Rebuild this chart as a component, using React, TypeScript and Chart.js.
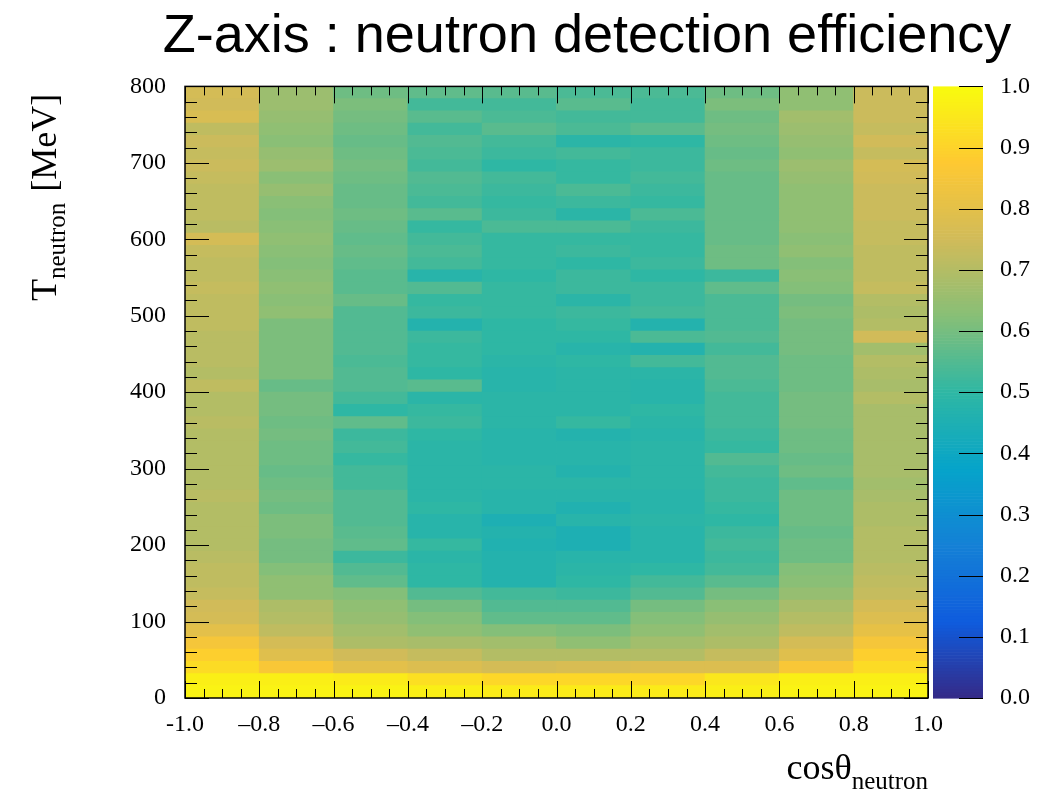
import React, { useEffect, useRef } from 'react';
import { Chart, registerables } from 'chart.js';

Chart.register(...registerables);

// Bin edges
const cosEdges = [-1.0, -0.8, -0.6, -0.4, -0.2, 0.0, 0.2, 0.4, 0.6, 0.8, 1.0];
const energyEdges = [0, 16, 32, 48, 64, 80, 96, 112, 128, 144, 160, 176, 192, 208, 224, 240, 256, 272, 288, 304, 320, 336, 352, 368, 384, 400, 416, 432, 448, 464, 480, 496, 512, 528, 544, 560, 576, 592, 608, 624, 640, 656, 672, 688, 704, 720, 736, 752, 768, 784, 800];

// Efficiency per energy bin (rows from 0 MeV upward), 10 cos bins each
const efficiency = [
  [0.98, 0.98, 0.98, 0.97, 0.96, 0.96, 0.96, 0.97, 0.98, 0.98],
  [0.97, 0.97, 0.96, 0.93, 0.91, 0.91, 0.91, 0.95, 0.97, 0.97],
  [0.92, 0.86, 0.80, 0.78, 0.76, 0.77, 0.78, 0.78, 0.86, 0.92],
  [0.89, 0.79, 0.75, 0.73, 0.70, 0.70, 0.70, 0.73, 0.79, 0.89],
  [0.85, 0.76, 0.69, 0.68, 0.67, 0.64, 0.67, 0.69, 0.76, 0.85],
  [0.80, 0.72, 0.67, 0.64, 0.62, 0.61, 0.64, 0.67, 0.72, 0.81],
  [0.76, 0.70, 0.65, 0.62, 0.57, 0.57, 0.62, 0.65, 0.70, 0.78],
  [0.75, 0.69, 0.64, 0.60, 0.55, 0.55, 0.60, 0.63, 0.68, 0.76],
  [0.73, 0.64, 0.62, 0.55, 0.53, 0.52, 0.55, 0.60, 0.65, 0.73],
  [0.72, 0.64, 0.57, 0.50, 0.47, 0.50, 0.53, 0.56, 0.63, 0.72],
  [0.72, 0.62, 0.55, 0.50, 0.47, 0.49, 0.50, 0.53, 0.62, 0.71],
  [0.71, 0.60, 0.52, 0.49, 0.47, 0.48, 0.48, 0.52, 0.59, 0.70],
  [0.70, 0.60, 0.57, 0.51, 0.46, 0.45, 0.48, 0.53, 0.59, 0.70],
  [0.70, 0.61, 0.56, 0.48, 0.47, 0.45, 0.48, 0.52, 0.58, 0.70],
  [0.70, 0.61, 0.55, 0.48, 0.45, 0.48, 0.49, 0.50, 0.59, 0.69],
  [0.70, 0.59, 0.55, 0.50, 0.48, 0.46, 0.48, 0.51, 0.59, 0.69],
  [0.71, 0.60, 0.55, 0.49, 0.48, 0.48, 0.48, 0.52, 0.59, 0.68],
  [0.70, 0.59, 0.53, 0.49, 0.49, 0.49, 0.49, 0.52, 0.57, 0.67],
  [0.70, 0.58, 0.53, 0.49, 0.49, 0.47, 0.49, 0.53, 0.59, 0.68],
  [0.70, 0.59, 0.51, 0.49, 0.48, 0.48, 0.49, 0.55, 0.58, 0.68],
  [0.70, 0.59, 0.53, 0.49, 0.48, 0.48, 0.49, 0.51, 0.59, 0.68],
  [0.70, 0.60, 0.52, 0.50, 0.48, 0.47, 0.48, 0.52, 0.59, 0.68],
  [0.71, 0.59, 0.57, 0.52, 0.49, 0.51, 0.49, 0.53, 0.60, 0.68],
  [0.70, 0.60, 0.50, 0.51, 0.49, 0.49, 0.50, 0.53, 0.60, 0.68],
  [0.70, 0.60, 0.53, 0.49, 0.49, 0.49, 0.48, 0.53, 0.60, 0.70],
  [0.72, 0.58, 0.55, 0.56, 0.48, 0.49, 0.48, 0.54, 0.59, 0.68],
  [0.70, 0.61, 0.55, 0.50, 0.48, 0.49, 0.49, 0.55, 0.59, 0.69],
  [0.71, 0.61, 0.54, 0.51, 0.49, 0.50, 0.53, 0.55, 0.59, 0.70],
  [0.71, 0.61, 0.55, 0.51, 0.50, 0.48, 0.47, 0.53, 0.60, 0.67],
  [0.71, 0.61, 0.55, 0.52, 0.50, 0.50, 0.54, 0.55, 0.60, 0.75],
  [0.72, 0.61, 0.55, 0.47, 0.50, 0.51, 0.47, 0.54, 0.60, 0.70],
  [0.72, 0.64, 0.55, 0.52, 0.51, 0.52, 0.53, 0.54, 0.61, 0.69],
  [0.72, 0.63, 0.58, 0.51, 0.51, 0.49, 0.52, 0.54, 0.60, 0.70],
  [0.73, 0.64, 0.56, 0.55, 0.51, 0.52, 0.52, 0.57, 0.62, 0.73],
  [0.72, 0.63, 0.56, 0.48, 0.50, 0.52, 0.50, 0.52, 0.63, 0.72],
  [0.72, 0.62, 0.57, 0.53, 0.51, 0.50, 0.52, 0.59, 0.62, 0.72],
  [0.73, 0.63, 0.58, 0.54, 0.51, 0.52, 0.51, 0.59, 0.64, 0.72],
  [0.76, 0.64, 0.57, 0.53, 0.51, 0.51, 0.51, 0.58, 0.63, 0.73],
  [0.71, 0.63, 0.58, 0.51, 0.54, 0.54, 0.52, 0.58, 0.64, 0.73],
  [0.72, 0.62, 0.59, 0.56, 0.52, 0.49, 0.54, 0.58, 0.64, 0.74],
  [0.72, 0.63, 0.58, 0.53, 0.51, 0.52, 0.51, 0.58, 0.64, 0.74],
  [0.72, 0.65, 0.58, 0.54, 0.52, 0.54, 0.52, 0.58, 0.64, 0.74],
  [0.73, 0.63, 0.59, 0.55, 0.53, 0.51, 0.53, 0.58, 0.65, 0.75],
  [0.74, 0.66, 0.60, 0.53, 0.50, 0.51, 0.52, 0.59, 0.66, 0.76],
  [0.73, 0.65, 0.59, 0.54, 0.52, 0.53, 0.52, 0.58, 0.64, 0.73],
  [0.74, 0.63, 0.58, 0.55, 0.53, 0.49, 0.50, 0.59, 0.65, 0.75],
  [0.72, 0.64, 0.59, 0.53, 0.56, 0.54, 0.56, 0.60, 0.66, 0.73],
  [0.77, 0.65, 0.60, 0.56, 0.54, 0.53, 0.53, 0.59, 0.67, 0.74],
  [0.75, 0.66, 0.61, 0.53, 0.53, 0.56, 0.53, 0.61, 0.64, 0.74],
  [0.76, 0.66, 0.59, 0.57, 0.56, 0.54, 0.54, 0.59, 0.64, 0.74],
];

const xTickLabels = ['-1.0', '\u20130.8', '\u20130.6', '\u20130.4', '\u20130.2', '0.0', '0.2', '0.4', '0.6', '0.8', '1.0'];
const yTickLabels = ['0', '100', '200', '300', '400', '500', '600', '700', '800'];
const zTickLabels = ['0.0', '0.1', '0.2', '0.3', '0.4', '0.5', '0.6', '0.7', '0.8', '0.9', '1.0'];

const titleText = 'Z-axis : neutron detection efficiency';

// ROOT "bird" palette
const birdStops = [0.0, 0.125, 0.25, 0.375, 0.5, 0.625, 0.75, 0.875, 1.0];
const birdRed = [0.2082, 0.0592, 0.078, 0.0232, 0.1802, 0.5301, 0.8186, 0.9956, 0.9764];
const birdGreen = [0.1664, 0.3599, 0.5041, 0.6419, 0.7178, 0.7492, 0.7328, 0.7862, 0.9832];
const birdBlue = [0.5293, 0.8684, 0.8385, 0.7914, 0.6425, 0.4662, 0.3499, 0.1968, 0.0539];

function birdColor(v: number): string {
  const t = Math.min(1, Math.max(0, v));
  let k = 0;
  while (k < birdStops.length - 2 && t > birdStops[k + 1]) k++;
  const f = (t - birdStops[k]) / (birdStops[k + 1] - birdStops[k]);
  const c = (arr: number[]) => Math.round(255 * (arr[k] + f * (arr[k + 1] - arr[k])));
  return `rgb(${c(birdRed)},${c(birdGreen)},${c(birdBlue)})`;
}

const SERIF = '"Liberation Serif", "Times New Roman", serif';
const SANS = '"Liberation Sans", Arial, sans-serif';

const rootDecor = {
  id: 'rootDecor',
  afterDatasetsDraw(chart: any) {
    const { ctx, chartArea: a, scales } = chart;
    const xs = scales.x;
    const ys = scales.y;
    const zs = scales.z;
    ctx.save();
    ctx.strokeStyle = '#000';
    ctx.lineWidth = 1;

    // x ticks (major every 0.2, minor every 0.05), bottom and top, inward
    for (let k = 0; k <= 40; k++) {
      const v = -1 + k * 0.05;
      const px = Math.round(xs.getPixelForValue(v)) + 0.5;
      const len = k % 4 === 0 ? 17 : 9;
      ctx.beginPath();
      ctx.moveTo(px, a.bottom);
      ctx.lineTo(px, a.bottom - len);
      ctx.moveTo(px, a.top);
      ctx.lineTo(px, a.top + len);
      ctx.stroke();
    }
    // y ticks (major every 100, minor every 20), left and right, inward
    for (let k = 0; k <= 40; k++) {
      const v = k * 20;
      const py = Math.round(ys.getPixelForValue(v)) + 0.5;
      const len = k % 5 === 0 ? 24 : 12;
      ctx.beginPath();
      ctx.moveTo(a.left, py);
      ctx.lineTo(a.left + len, py);
      ctx.moveTo(a.right, py);
      ctx.lineTo(a.right - len, py);
      ctx.stroke();
    }
    // frame
    ctx.lineWidth = 1.5;
    ctx.strokeRect(a.left, a.top, a.right - a.left, a.bottom - a.top);

    // colour bar
    const x0 = a.right + 5;
    const x1 = a.right + 55;
    const n = 200;
    for (let i = 0; i < n; i++) {
      const yA = zs.getPixelForValue(i / n);
      const yB = zs.getPixelForValue((i + 1) / n);
      ctx.fillStyle = birdColor((i + 0.5) / n);
      ctx.fillRect(x0, yB, x1 - x0, yA - yB + 0.6);
    }
    ctx.lineWidth = 1;
    for (let i = 0; i <= 10; i++) {
      const py = Math.round(zs.getPixelForValue(i / 10)) + 0.5;
      ctx.beginPath();
      ctx.moveTo(x1, py);
      ctx.lineTo(x1 - 24, py);
      ctx.stroke();
    }
    ctx.restore();
  },
  afterDraw(chart: any) {
    const { ctx, chartArea: a } = chart;
    ctx.save();
    ctx.fillStyle = '#000';
    ctx.textBaseline = 'alphabetic';
    ctx.textAlign = 'left';
    // x-axis title: cosθ_neutron, right aligned to frame
    const mainFont = `36px ${SERIF}`;
    const subFont = `25px ${SERIF}`;
    ctx.font = mainFont;
    const wMain = ctx.measureText('cos\u03b8').width;
    ctx.font = subFont;
    const wSub = ctx.measureText('neutron').width;
    const xStart = a.right - wMain - wSub;
    ctx.font = mainFont;
    ctx.fillText('cos\u03b8', xStart, 779);
    ctx.font = subFont;
    ctx.fillText('neutron', xStart + wMain, 789);

    // y-axis title: T_neutron [MeV], rotated
    ctx.translate(56, 301);
    ctx.rotate(-Math.PI / 2);
    ctx.font = mainFont;
    ctx.fillText('T', 0, 0);
    const wT = ctx.measureText('T').width;
    ctx.font = subFont;
    ctx.fillText('neutron', wT, 9);
    const wN = ctx.measureText('neutron').width;
    ctx.font = mainFont;
    ctx.fillText(' [MeV]', wT + wN + 2, 0);
    ctx.restore();
  },
};

export default function App() {
  const canvasRef = useRef<HTMLCanvasElement>(null);

  useEffect(() => {
    const canvas = canvasRef.current;
    if (!canvas) return;
    const centers = cosEdges.slice(0, -1).map((lo, j) => (lo + cosEdges[j + 1]) / 2);
    const datasets = efficiency.map((row, i) => ({
      label: `${energyEdges[i]}-${energyEdges[i + 1]} MeV`,
      data: centers.map((c) => ({ x: c, y: [energyEdges[i], energyEdges[i + 1]] })),
      backgroundColor: row.map((v) => birdColor(v)),
      borderWidth: 0,
      grouped: false,
      barPercentage: 1,
      categoryPercentage: 1,
      inflateAmount: 0.4,
    }));

    const chart = new Chart(canvas, {
      type: 'bar',
      data: { datasets: datasets as any },
      options: {
        responsive: false,
        maintainAspectRatio: false,
        animation: false,
        devicePixelRatio: 1,
        layout: { padding: { left: 120, right: 0, top: 0, bottom: 0 } },
        plugins: {
          legend: { display: false },
          tooltip: { enabled: false },
          title: {
            display: true,
            text: titleText,
            color: '#000',
            font: { family: SANS, size: 54, weight: 'normal', lineHeight: 1 },
            padding: { top: 10, bottom: 22 },
          },
        },
        scales: {
          x: {
            type: 'linear',
            position: 'bottom',
            min: -1,
            max: 1,
            offset: false,
            grid: { display: false, drawTicks: false, offset: false },
            border: { display: false },
            ticks: {
              stepSize: 0.2,
              autoSkip: false,
              maxRotation: 0,
              padding: 12,
              color: '#000',
              font: { family: SERIF, size: 24 },
              callback: (_v: any, i: number) => xTickLabels[i],
            },
            afterFit: (s: any) => { s.height = 95; },
          },
          y: {
            type: 'linear',
            position: 'left',
            min: 0,
            max: 800,
            grid: { display: false, drawTicks: false },
            border: { display: false },
            ticks: {
              stepSize: 100,
              padding: 19,
              color: '#000',
              font: { family: SERIF, size: 24 },
              callback: (_v: any, i: number) => yTickLabels[i],
            },
            afterFit: (s: any) => { s.width = 65; },
          },
          z: {
            type: 'linear',
            position: 'right',
            min: 0,
            max: 1,
            grid: { display: false, drawTicks: false },
            border: { display: false },
            ticks: {
              stepSize: 0.1,
              padding: 72,
              color: '#000',
              font: { family: SERIF, size: 24 },
              callback: (_v: any, i: number) => zTickLabels[i],
            },
            afterFit: (s: any) => { s.width = 126; },
          },
        },
      } as any,
      plugins: [rootDecor],
    });
    return () => chart.destroy();
  }, []);

  return (
    <div style={{ position: 'absolute', left: 0, top: 0, width: 1054, height: 793, background: '#fff' }}>
      <canvas ref={canvasRef} width={1054} height={793} style={{ display: 'block', width: 1054, height: 793 }} />
    </div>
  );
}
